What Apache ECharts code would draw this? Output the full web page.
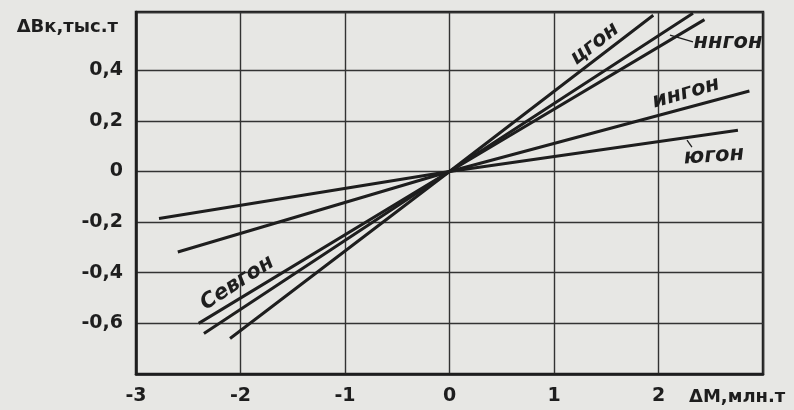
<!DOCTYPE html>
<html>
<head>
<meta charset="utf-8">
<script src="https://cdn.jsdelivr.net/npm/echarts@6/dist/echarts.min.js"></script>
<style>
  html, body { margin: 0; padding: 0; background: #e7e7e4; }
  #chart { width: 794px; height: 410px; }
</style>
</head>
<body>
<div id="chart"></div>
<script>
// lines through the origin, end points
const seriesNames = ['цгон', 'Севгон', 'ннгон', 'ингон', 'югон']
const leftEndX = [-2.10, -2.35, -2.40, -2.60, -2.78]
const leftEndY = [-0.66, -0.64, -0.60, -0.318, -0.186]
const rightEndX = [1.95, 2.33, 2.44, 2.87, 2.76]
const rightEndY = [0.617, 0.625, 0.60, 0.318, 0.163]

const xMin = -3
const xMax = 3
const yMin = -0.8
const yMax = 0.63

const ink = '#1e1e1e'

// hand lettering on the plot
const labelSpots = [
  { text: 'цгон', coord: [1.39, 0.504], rotate: 38 },
  { text: 'Севгон', coord: [-2.03, -0.441], rotate: 33 },
  { text: 'ннгон', coord: [2.665, 0.511], rotate: 0 },
  { text: 'ингон', coord: [2.263, 0.31], rotate: 16 },
  { text: 'югон', coord: [2.531, 0.061], rotate: 4 }
]
const leaders = [
  [[2.11, 0.539], [2.33, 0.512]],
  [[2.273, 0.124], [2.32, 0.096]]
]

const labelFont = {
  fontFamily: 'DejaVu Sans',
  fontStyle: 'italic',
  fontWeight: 'bold',
  fontSize: 21,
  color: ink
}

const series = seriesNames.map((name, i) => ({
  name: name,
  type: 'line',
  symbol: 'none',
  lineStyle: { color: ink, width: 3 },
  data: [
    [leftEndX[i], leftEndY[i]],
    [0, 0],
    [rightEndX[i], rightEndY[i]]
  ]
}))

series.push({
  name: 'labels',
  type: 'scatter',
  data: [],
  markPoint: {
    symbol: 'circle',
    symbolSize: 0,
    data: labelSpots.map(s => ({
      coord: s.coord,
      label: Object.assign({
        show: true,
        position: 'inside',
        formatter: s.text,
        rotate: s.rotate
      }, labelFont)
    }))
  },
  markLine: {
    symbol: 'none',
    silent: true,
    label: { show: false },
    lineStyle: { color: ink, width: 1.3, type: 'solid' },
    data: leaders.map(l => [{ coord: l[0] }, { coord: l[1] }])
  }
})

const tickFont = {
  fontFamily: 'DejaVu Sans',
  fontWeight: 'bold',
  fontSize: 19,
  color: ink
}

// grid line at 0.6 sits just under the frame, hide it
const ySplitColors = ['#333', '#333', '#333', '#333', '#333', '#333', '#333', 'rgba(0,0,0,0)', '#333']

var myChart = echarts.init(document.getElementById('chart'))
myChart.setOption({
  animation: false,
  backgroundColor: '#e7e7e4',
  grid: {
    left: 136,
    right: 31,
    top: 12,
    bottom: 36,
    outerBoundsMode: 'none',
    containLabel: false,
    show: true,
    borderColor: ink,
    borderWidth: 2.5
  },
  xAxis: {
    type: 'value',
    min: xMin,
    max: xMax,
    interval: 1,
    name: 'ΔМ,млн.т',
    nameLocation: 'end',
    nameGap: -74,
    nameTextStyle: {
      fontFamily: 'DejaVu Sans',
      fontWeight: 'bold',
      fontSize: 18,
      color: ink,
      align: 'left',
      verticalAlign: 'top',
      lineHeight: 46
    },
    axisLine: { show: true, onZero: false, lineStyle: { color: ink, width: 2.5 } },
    axisTick: { show: false },
    splitLine: { show: true, lineStyle: { color: '#333', width: 1.4 } },
    axisLabel: Object.assign({
      margin: 13,
      formatter: v => (v >= 2.5 ? '' : String(v))
    }, tickFont)
  },
  yAxis: {
    type: 'value',
    min: yMin,
    max: yMax,
    interval: 0.2,
    name: 'ΔВк,тыс.т',
    nameLocation: 'end',
    nameGap: -15,
    nameTextStyle: {
      fontFamily: 'DejaVu Sans',
      fontWeight: 'bold',
      fontSize: 18,
      color: ink,
      align: 'right',
      verticalAlign: 'middle',
      padding: [0, 18, 0, 0]
    },
    axisLine: { show: true, onZero: false, lineStyle: { color: ink, width: 2.5 } },
    axisTick: { show: false },
    splitLine: { show: true, lineStyle: { color: ySplitColors, width: 1.4 } },
    axisLabel: Object.assign({
      margin: 13,
      formatter: v => {
        if (v > 0.5 || v < -0.7) return ''
        if (Math.abs(v) < 1e-9) return '0'
        return v.toFixed(1).replace('.', ',')
      }
    }, tickFont)
  },
  series: series
})
</script>
</body>
</html>
